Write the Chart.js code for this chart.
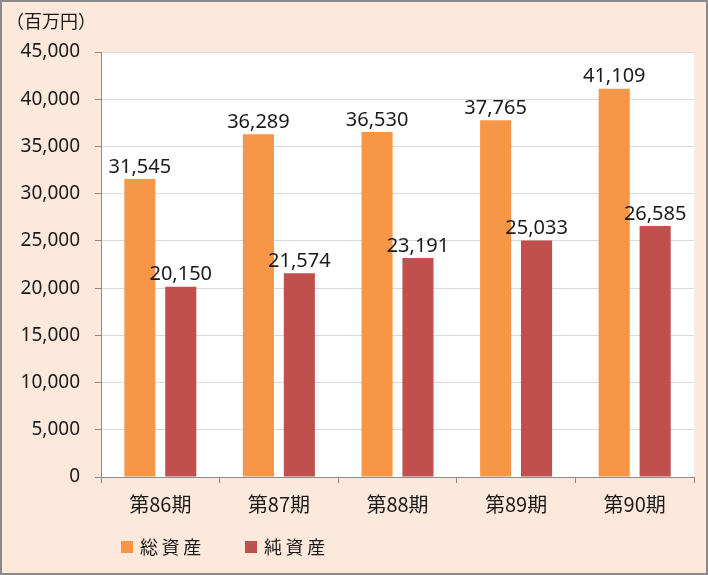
<!DOCTYPE html>
<html>
<head>
<meta charset="utf-8">
<script src="https://cdn.jsdelivr.net/npm/chart.js@4"></script>
<style>
  html, body { margin: 0; padding: 0; background: #fff; }
  #chart { display: block; background: #fde9db; }
</style>
</head>
<body>
<canvas id="chart" width="708" height="575"></canvas>
<script>
// データ
const periods = ['第86期', '第87期', '第88期', '第89期', '第90期'];
const totalAssets = [31545, 36289, 36530, 37765, 41109]; // 総資産
const netAssets = [20150, 21574, 23191, 25033, 26585];   // 純資産
const seriesNames = ['総資産', '純資産'];
const unitLabel = '（百万円）';

const FONT = '"Noto Sans", "Noto Sans CJK JP", sans-serif';
const JP_FONT = '"Noto Sans CJK JP", sans-serif';
const TEXT = '#1a1a1a';

// 描画エリアの白背景・枠・ラベル・凡例
const extras = {
  id: 'extras',
  beforeDraw(chart) {
    const { ctx, chartArea: a } = chart;
    ctx.save();
    ctx.fillStyle = '#ffffff';
    ctx.fillRect(a.left, a.top, a.right - a.left, a.bottom - a.top);
    ctx.restore();
  },
  afterDatasetsDraw(chart) {
    const ctx = chart.ctx;
    ctx.save();
    ctx.fillStyle = TEXT;
    ctx.font = '20px ' + FONT;
    ctx.textAlign = 'center';
    ctx.textBaseline = 'bottom';
    chart.data.datasets.forEach((ds, i) => {
      chart.getDatasetMeta(i).data.forEach((bar, j) => {
        ctx.fillText(ds.data[j].toLocaleString('en-US'), bar.x, bar.y - 2);
      });
    });
    ctx.restore();
  },
  afterDraw(chart) {
    const ctx = chart.ctx;
    ctx.save();
    // 単位
    ctx.fillStyle = TEXT;
    ctx.font = '18px ' + JP_FONT;
    ctx.textAlign = 'left';
    ctx.textBaseline = 'middle';
    ctx.fillText(unitLabel, 6, 21);
    // 凡例
    let x = 121;
    chart.data.datasets.forEach((ds) => {
      ctx.fillStyle = ds.backgroundColor;
      ctx.fillRect(x, 541, 12, 12);
      ctx.fillStyle = TEXT;
      ctx.font = '18px ' + JP_FONT;
      ctx.fillText(ds.label.split('').join('\u2009'), x + 19, 547);
      x += 124;
    });
    // 外枠
    ctx.strokeStyle = '#8a8a8a';
    ctx.lineWidth = 2;
    ctx.strokeRect(1, 1, chart.width - 2, chart.height - 2);
    ctx.restore();
  }
};

new Chart(document.getElementById('chart'), {
  type: 'bar',
  data: {
    labels: periods,
    datasets: [
      { label: seriesNames[0], data: totalAssets, backgroundColor: '#f79646' },
      { label: seriesNames[1], data: netAssets, backgroundColor: '#c0504d' }
    ]
  },
  options: {
    responsive: false,
    animation: false,
    devicePixelRatio: 1,
    categoryPercentage: 0.69,
    barPercentage: 0.76,
    layout: { padding: { top: 52, right: 14, bottom: 0, left: 0 } },
    plugins: {
      legend: { display: false },
      tooltip: { enabled: false }
    },
    scales: {
      y: {
        min: 0,
        max: 45000,
        afterFit(scale) { scale.width = 101; },
        ticks: {
          stepSize: 5000,
          color: TEXT,
          padding: 15,
          font: { size: 19, family: FONT },
          callback: (v) => v.toLocaleString('en-US')
        },
        grid: {
          color: '#d9d9d9',
          lineWidth: 1,
          tickLength: 6,
          tickColor: '#8c8c8c'
        },
        border: { color: '#8c8c8c', width: 1 }
      },
      x: {
        afterFit(scale) { scale.height = 98; },
        ticks: {
          color: TEXT,
          padding: 9,
          font: { size: 20, family: JP_FONT }
        },
        grid: {
          offset: true,
          drawOnChartArea: false,
          tickLength: 6,
          tickColor: '#8c8c8c'
        },
        border: { color: '#8c8c8c', width: 1 }
      }
    }
  },
  plugins: [extras]
});
</script>
</body>
</html>
